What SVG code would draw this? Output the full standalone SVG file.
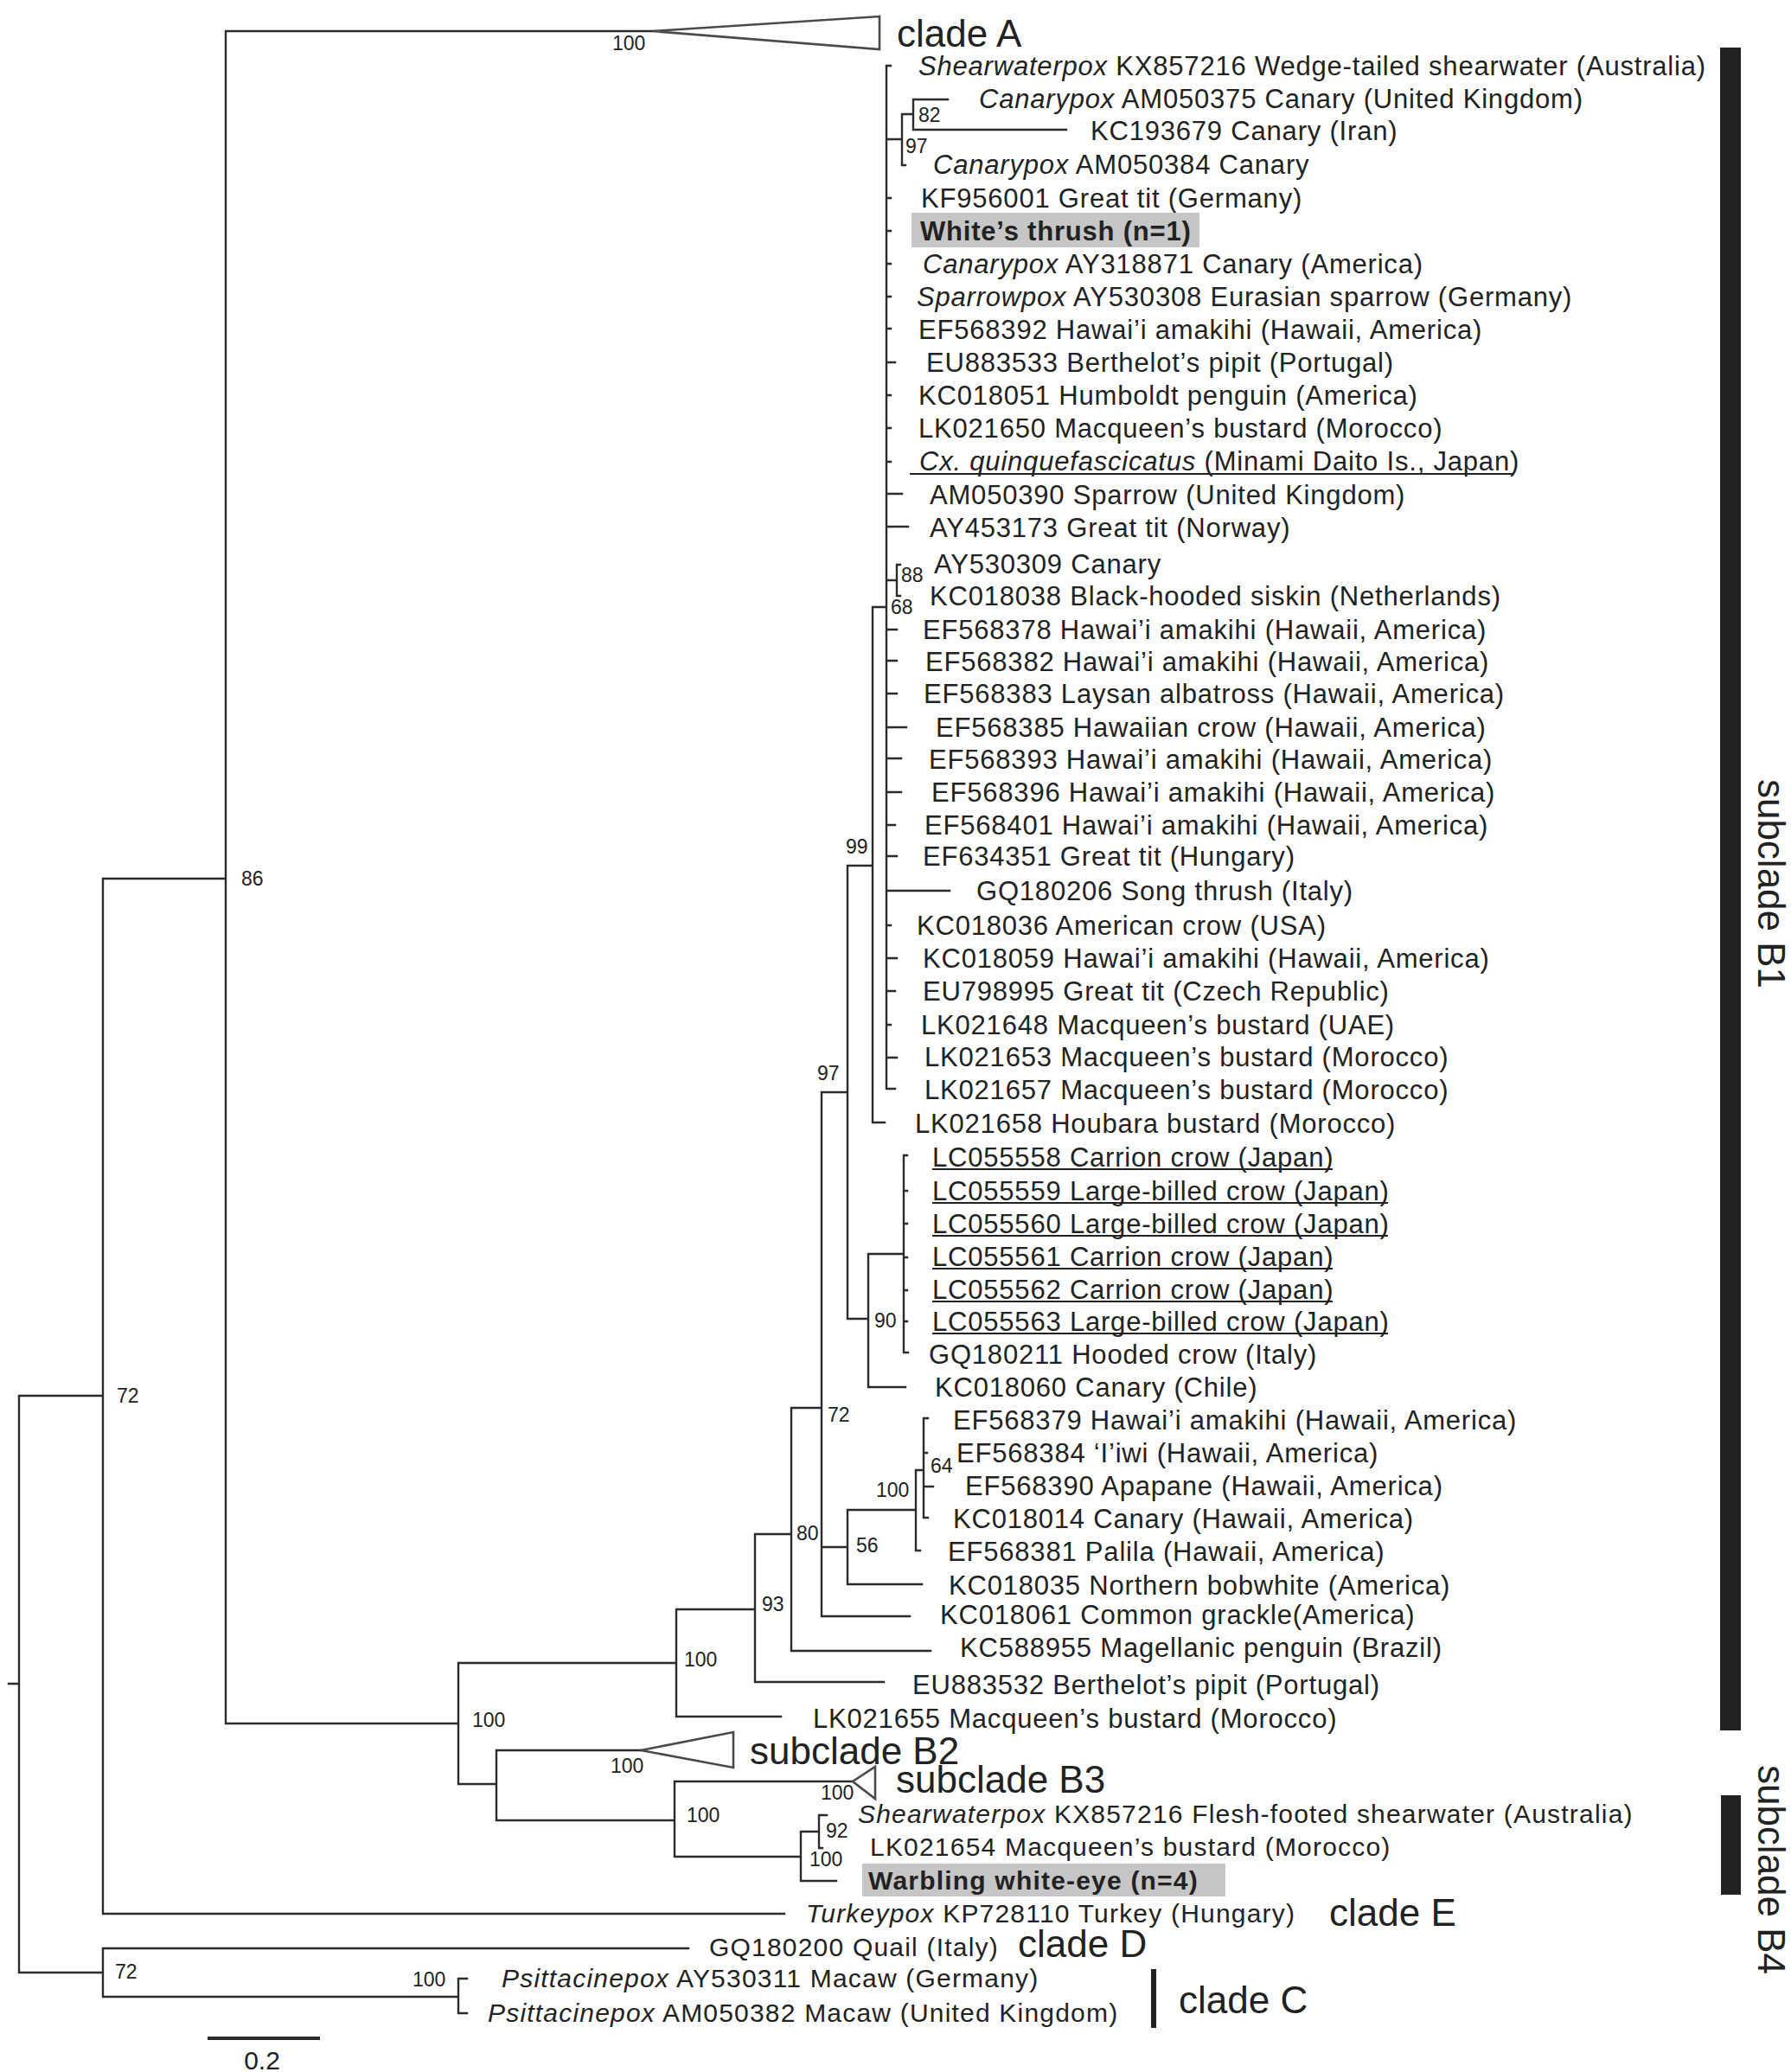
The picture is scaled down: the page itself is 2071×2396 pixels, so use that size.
<svg xmlns="http://www.w3.org/2000/svg" width="2071" height="2396" viewBox="0 0 2071 2396">
<style>
.br{fill:none;stroke:#2b2b2b;stroke-width:2.4;stroke-linecap:square}
.tri{fill:#fff;stroke:#4a4a4a;stroke-width:2.6}
text{font-family:"Liberation Sans",Arial,sans-serif;fill:#222}
.lb{font-size:31px;letter-spacing:0.8px}
.lb2{font-size:30px;letter-spacing:1.2px}
.bs{font-size:23px}
.cl{font-size:44px}
.it{font-style:italic}
.bd{font-weight:bold}
.ul{stroke:#222;stroke-width:2}
.hl{fill:#c6c6c6}
.bar{fill:#222}
</style>
<rect width="2071" height="2396" fill="#fff"/>
<g id="connectors">
<path class="br" d="M261,36 H754 M261,36 V1993 M119,1016 H261 M119,1016 V2213 M22,1614 H119 M22,1614 V2281 M10,1947 H22 M119,2213 H907
M22,2281 H119 M119,2253 V2309 M119,2253 H796 M119,2309 H530 M530,2288 V2328 M530,2288 H540 M530,2328 H540
M261,1993 H530 M530,1923 V2063 M530,1923 H782 M782,1861 V1985 M782,1985 H903 M782,1861 H873 M873,1774 V1945 M873,1945 H1022 M873,1774 H915 M915,1628 V1909 M915,1909 H1076 M915,1628 H950 M950,1263 V1869 M950,1869 H1052 M950,1789 H980 M980,1746 V1832 M980,1832 H1066 M980,1746 H1059 M1059,1700 V1793 M1059,1793 H1064 M1059,1700 H1068 M1068,1640 V1755 M1068,1640 H1073 M1068,1680 H1072 M1068,1719 H1079 M1068,1755 H1073
M950,1263 H980 M980,1001 V1525 M980,1525 H1004 M1004,1450 V1604 M1004,1604 H1047 M1004,1450 H1045 M1045,1336 V1564 M1045,1336 H1049 M1045,1377 H1049 M1045,1415 H1049 M1045,1454 H1049 M1045,1492 H1049 M1045,1528 H1049 M1045,1564 H1050
M980,1001 H1009 M1009,702 V1298 M1009,1298 H1023 M1009,702 H1025
M1025,76 V1259 M1025,76 H1030 M1025,229 H1030 M1025,267 H1030 M1025,305 H1030 M1025,343 H1030 M1025,380 H1030 M1025,419 H1035 M1025,457 H1030 M1025,495 H1030 M1025,534 H1030 M1025,571 H1043 M1025,609 H1050 M1025,728 H1037 M1025,764 H1037 M1025,802 H1037 M1025,841 H1048 M1025,877 H1042 M1025,916 H1042 M1025,954 H1035 M1025,990 H1037 M1025,1030 H1098 M1025,1070 H1030 M1025,1108 H1037 M1025,1146 H1035 M1025,1185 H1030 M1025,1223 H1037 M1025,1259 H1035
M1025,161 H1043 M1043,132 V191 M1043,191 H1047 M1043,132 H1056 M1056,115 V150 M1056,115 H1096 M1056,150 H1233
M1025,671 H1037 M1037,653 V689 M1037,653 H1041 M1037,689 H1041
M530,2063 H574 M574,2024 V2105 M574,2024 H741 M574,2105 H780 M780,2060 V2147 M780,2060 H986 M780,2147 H926 M926,2118 V2175 M926,2175 H967 M926,2118 H947 M947,2099 V2137 M947,2099 H956 M947,2137 H951"/>
<path class="br" d="M242,2357 H368" style="stroke-width:4"/>
</g>
<g id="collapsed">
<polygon id="triA" class="tri" points="754,36 1017,19 1017,57"/>
<polygon id="triB2" class="tri" points="741,2024 848,2003 848,2044"/>
<polygon id="triB3" class="tri" points="986,2060 1012,2043 1012,2080"/>
</g>
<g id="support">
<text class="bs" x="708" y="58">100</text>
<text class="bs" x="1062" y="141">82</text>
<text class="bs" x="1047" y="177">97</text>
<text class="bs" x="1042" y="673">88</text>
<text class="bs" x="1030" y="710">68</text>
<text class="bs" x="978" y="987">99</text>
<text class="bs" x="945" y="1249">97</text>
<text class="bs" x="1011" y="1535">90</text>
<text class="bs" x="957" y="1644">72</text>
<text class="bs" x="1076" y="1703">64</text>
<text class="bs" x="1013" y="1731">100</text>
<text class="bs" x="921" y="1781">80</text>
<text class="bs" x="990" y="1795">56</text>
<text class="bs" x="881" y="1863">93</text>
<text class="bs" x="791" y="1927">100</text>
<text class="bs" x="546" y="1997">100</text>
<text class="bs" x="706" y="2050">100</text>
<text class="bs" x="949" y="2081">100</text>
<text class="bs" x="794" y="2107">100</text>
<text class="bs" x="955" y="2125">92</text>
<text class="bs" x="936" y="2158">100</text>
<text class="bs" x="279" y="1024">86</text>
<text class="bs" x="135" y="1622">72</text>
<text class="bs" x="133" y="2288">72</text>
<text class="bs" x="477" y="2297">100</text>
</g>
<g id="taxa">
<g id="t1"><text class="lb" x="1062" y="87"><tspan class="it">Shearwaterpox</tspan> KX857216 Wedge-tailed shearwater (Australia)</text></g>
<g id="t2"><text class="lb" x="1132" y="125"><tspan class="it">Canarypox</tspan> AM050375 Canary (United Kingdom)</text></g>
<g id="t3"><text class="lb" x="1261" y="162">KC193679 Canary (Iran)</text></g>
<g id="t4"><text class="lb" x="1079" y="201"><tspan class="it">Canarypox</tspan> AM050384 Canary</text></g>
<g id="t5"><text class="lb" x="1065" y="240">KF956001 Great tit (Germany)</text></g>
<g id="t6"><rect class="hl" x="1054" y="246" width="333" height="40"/><text class="lb bd" x="1064" y="278">White’s thrush (n=1)</text></g>
<g id="t7"><text class="lb" x="1067" y="316"><tspan class="it">Canarypox</tspan> AY318871 Canary (America)</text></g>
<g id="t8"><text class="lb" x="1060" y="354"><tspan class="it">Sparrowpox</tspan> AY530308 Eurasian sparrow (Germany)</text></g>
<g id="t9"><text class="lb" x="1062" y="392">EF568392 Hawai’i amakihi (Hawaii, America)</text></g>
<g id="t10"><text class="lb" x="1071" y="430">EU883533 Berthelot’s pipit (Portugal)</text></g>
<g id="t11"><text class="lb" x="1062" y="468">KC018051 Humboldt penguin (America)</text></g>
<g id="t12"><text class="lb" x="1062" y="506">LK021650 Macqueen’s bustard (Morocco)</text></g>
<g id="t13"><text class="lb" x="1063" y="544"><tspan class="it">Cx. quinquefascicatus</tspan> (Minami Daito Is., Japan)</text><line class="ul" x1="1052" y1="548" x2="1750" y2="548"/></g>
<g id="t14"><text class="lb" x="1075" y="583">AM050390 Sparrow (United Kingdom)</text></g>
<g id="t15"><text class="lb" x="1075" y="621">AY453173 Great tit (Norway)</text></g>
<g id="t16"><text class="lb" x="1080" y="663">AY530309 Canary</text></g>
<g id="t17"><text class="lb" x="1075" y="700">KC018038 Black-hooded siskin (Netherlands)</text></g>
<g id="t18"><text class="lb" x="1067" y="739">EF568378 Hawai’i amakihi (Hawaii, America)</text></g>
<g id="t19"><text class="lb" x="1070" y="776">EF568382 Hawai’i amakihi (Hawaii, America)</text></g>
<g id="t20"><text class="lb" x="1068" y="813">EF568383 Laysan albatross (Hawaii, America)</text></g>
<g id="t21"><text class="lb" x="1082" y="852">EF568385 Hawaiian crow (Hawaii, America)</text></g>
<g id="t22"><text class="lb" x="1074" y="889">EF568393 Hawai’i amakihi (Hawaii, America)</text></g>
<g id="t23"><text class="lb" x="1077" y="927">EF568396 Hawai’i amakihi (Hawaii, America)</text></g>
<g id="t24"><text class="lb" x="1069" y="965">EF568401 Hawai’i amakihi (Hawaii, America)</text></g>
<g id="t25"><text class="lb" x="1067" y="1001">EF634351 Great tit (Hungary)</text></g>
<g id="t26"><text class="lb" x="1129" y="1041">GQ180206 Song thrush (Italy)</text></g>
<g id="t27"><text class="lb" x="1060" y="1081">KC018036 American crow (USA)</text></g>
<g id="t28"><text class="lb" x="1067" y="1119">KC018059 Hawai’i amakihi (Hawaii, America)</text></g>
<g id="t29"><text class="lb" x="1067" y="1157">EU798995 Great tit (Czech Republic)</text></g>
<g id="t30"><text class="lb" x="1065" y="1196">LK021648 Macqueen’s bustard (UAE)</text></g>
<g id="t31"><text class="lb" x="1069" y="1233">LK021653 Macqueen’s bustard (Morocco)</text></g>
<g id="t32"><text class="lb" x="1069" y="1271">LK021657 Macqueen’s bustard (Morocco)</text></g>
<g id="t33"><text class="lb" x="1058" y="1310">LK021658 Houbara bustard (Morocco)</text></g>
<g id="t34"><text class="lb" x="1078" y="1349">LC055558 Carrion crow (Japan)</text><line class="ul" x1="1078" y1="1352" x2="1541" y2="1352"/></g>
<g id="t35"><text class="lb" x="1078" y="1388">LC055559 Large-billed crow (Japan)</text><line class="ul" x1="1078" y1="1391" x2="1605" y2="1391"/></g>
<g id="t36"><text class="lb" x="1078" y="1426">LC055560 Large-billed crow (Japan)</text><line class="ul" x1="1078" y1="1429" x2="1605" y2="1429"/></g>
<g id="t37"><text class="lb" x="1078" y="1464">LC055561 Carrion crow (Japan)</text><line class="ul" x1="1078" y1="1467" x2="1541" y2="1467"/></g>
<g id="t38"><text class="lb" x="1078" y="1502">LC055562 Carrion crow (Japan)</text><line class="ul" x1="1078" y1="1505" x2="1541" y2="1505"/></g>
<g id="t39"><text class="lb" x="1078" y="1539">LC055563 Large-billed crow (Japan)</text><line class="ul" x1="1078" y1="1542" x2="1605" y2="1542"/></g>
<g id="t40"><text class="lb" x="1074" y="1577">GQ180211 Hooded crow (Italy)</text></g>
<g id="t41"><text class="lb" x="1081" y="1615">KC018060 Canary (Chile)</text></g>
<g id="t42"><text class="lb" x="1102" y="1653">EF568379 Hawai’i amakihi (Hawaii, America)</text></g>
<g id="t43"><text class="lb" x="1106" y="1691">EF568384 ‘I’iwi (Hawaii, America)</text></g>
<g id="t44"><text class="lb" x="1116" y="1729">EF568390 Apapane (Hawaii, America)</text></g>
<g id="t45"><text class="lb" x="1102" y="1767">KC018014 Canary (Hawaii, America)</text></g>
<g id="t46"><text class="lb" x="1096" y="1805">EF568381 Palila (Hawaii, America)</text></g>
<g id="t47"><text class="lb" x="1097" y="1844">KC018035 Northern bobwhite (America)</text></g>
<g id="t48"><text class="lb" x="1087" y="1878">KC018061 Common grackle(America)</text></g>
<g id="t49"><text class="lb" x="1110" y="1916">KC588955 Magellanic penguin (Brazil)</text></g>
<g id="t50"><text class="lb" x="1055" y="1959">EU883532 Berthelot’s pipit (Portugal)</text></g>
<g id="t51"><text class="lb" x="940" y="1998">LK021655 Macqueen’s bustard (Morocco)</text></g>
<g id="t54"><text class="lb2" x="992" y="2108"><tspan class="it">Shearwaterpox</tspan> KX857216 Flesh-footed shearwater (Australia)</text></g>
<g id="t55"><text class="lb2" x="1006" y="2146">LK021654 Macqueen’s bustard (Morocco)</text></g>
<g id="t56"><rect class="hl" x="997" y="2155" width="420" height="38"/><text class="lb2 bd" x="1004" y="2185">Warbling white-eye (n=4)</text></g>
<g id="t57"><text class="lb2" x="932" y="2223"><tspan class="it">Turkeypox</tspan> KP728110 Turkey (Hungary)</text></g>
<g id="t58"><text class="lb2" x="820" y="2262">GQ180200 Quail (Italy)</text></g>
<g id="t59"><text class="lb2" x="580" y="2298"><tspan class="it">Psittacinepox</tspan> AY530311 Macaw (Germany)</text></g>
<g id="t60"><text class="lb2" x="564" y="2338"><tspan class="it">Psittacinepox</tspan> AM050382 Macaw (United Kingdom)</text></g>
</g>
<g id="clades">
<text class="cl" x="1037" y="54">clade A</text>
<text class="cl" x="867" y="2040">subclade B2</text>
<text class="cl" x="1036" y="2073">subclade B3</text>
<text class="cl" x="1537" y="2227">clade E</text>
<text class="cl" x="1177" y="2263">clade D</text>
<text class="cl" x="1363" y="2328">clade C</text>
<rect class="bar" x="1331" y="2277" width="6" height="68"/>
<rect class="bar" x="1989" y="55" width="24" height="1946"/>
<rect class="bar" x="1990" y="2076" width="23" height="115"/>
<text class="cl" transform="translate(2033,1022) rotate(90)" text-anchor="middle">subclade B1</text>
<text class="cl" transform="translate(2033,2162) rotate(90)" text-anchor="middle">subclade B4</text>
</g>
<g id="scale">
<text x="303" y="2393" text-anchor="middle" style="font-size:30px">0.2</text>
</g>
</svg>
